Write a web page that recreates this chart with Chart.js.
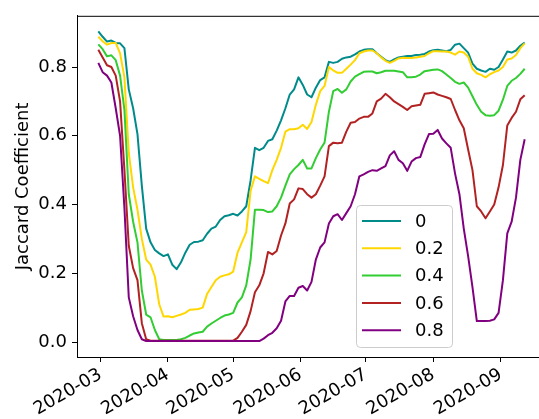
<!DOCTYPE html>
<html>
<head>
<meta charset="utf-8">
<script src="https://cdn.jsdelivr.net/npm/chart.js@4.4.1/dist/chart.umd.min.js"></script>
<style>
  html, body { margin: 0; padding: 0; background: #fff; overflow: hidden; }
  #wrap { width: 539px; height: 419px; overflow: hidden; }
</style>
</head>
<body>
<div id="wrap"><canvas id="chart" width="560" height="419"></canvas></div>
<script>
// days since 2020-03-01 (every second day, 2020-02-29 .. 2020-09-12)
const days = [-1, 1, 3, 5, 7, 9, 11, 13, 15, 17, 19, 21, 23, 25, 27, 29, 31, 33, 35, 37,
    39, 41, 43, 45, 47, 49, 51, 53, 55, 57, 59, 61, 63, 65, 67, 69, 71, 73, 75, 77,
    79, 81, 83, 85, 87, 89, 91, 93, 95, 97, 99, 101, 103, 105, 107, 109, 111, 113, 115, 117,
    119, 121, 123, 125, 127, 129, 131, 133, 135, 137, 139, 141, 143, 145, 147, 149, 151, 153, 155, 157,
    159, 161, 163, 165, 167, 169, 171, 173, 175, 177, 179, 181, 183, 185, 187, 189, 191, 193, 195]

const seriesLabels = ['0', '0.2', '0.4', '0.6', '0.8']
const seriesColors = ['#008b8b', '#ffd700', '#32cd32', '#b22222', '#800080']

const jac00 = [0.904, 0.888, 0.874, 0.877, 0.870, 0.869, 0.855, 0.735, 0.680, 0.605,
    0.455, 0.330, 0.290, 0.268, 0.258, 0.250, 0.255, 0.225, 0.212, 0.232,
    0.260, 0.283, 0.291, 0.292, 0.296, 0.315, 0.330, 0.336, 0.355, 0.366,
    0.369, 0.373, 0.368, 0.380, 0.395, 0.470, 0.565, 0.558, 0.565, 0.585,
    0.590, 0.615, 0.645, 0.680, 0.720, 0.735, 0.770, 0.748, 0.720, 0.712,
    0.740, 0.762, 0.770, 0.815, 0.812, 0.815, 0.824, 0.828, 0.830, 0.837,
    0.845, 0.850, 0.852, 0.852, 0.840, 0.830, 0.820, 0.815, 0.822, 0.828,
    0.830, 0.832, 0.832, 0.835, 0.836, 0.838, 0.845, 0.849, 0.850, 0.848,
    0.846, 0.850, 0.865, 0.868, 0.855, 0.842, 0.810, 0.795, 0.790, 0.786,
    0.795, 0.792, 0.800, 0.822, 0.845, 0.842, 0.848, 0.862, 0.871]

const jac02 = [0.888, 0.875, 0.865, 0.870, 0.870, 0.840, 0.770, 0.550, 0.450, 0.385,
    0.300, 0.240, 0.225, 0.190, 0.110, 0.074, 0.075, 0.072, 0.076, 0.080,
    0.085, 0.094, 0.095, 0.096, 0.100, 0.140, 0.160, 0.180, 0.190, 0.194,
    0.197, 0.205, 0.260, 0.290, 0.320, 0.440, 0.482, 0.475, 0.468, 0.462,
    0.500, 0.530, 0.565, 0.612, 0.619, 0.619, 0.622, 0.632, 0.620, 0.640,
    0.690, 0.730, 0.745, 0.800, 0.790, 0.783, 0.783, 0.795, 0.807, 0.820,
    0.840, 0.845, 0.848, 0.848, 0.840, 0.828, 0.818, 0.812, 0.818, 0.825,
    0.827, 0.826, 0.826, 0.828, 0.830, 0.832, 0.840, 0.846, 0.846, 0.845,
    0.845, 0.842, 0.836, 0.845, 0.842, 0.830, 0.795, 0.782, 0.777, 0.770,
    0.779, 0.785, 0.790, 0.800, 0.822, 0.825, 0.835, 0.855, 0.869]

const jac04 = [0.866, 0.852, 0.831, 0.834, 0.820, 0.775, 0.675, 0.430, 0.350, 0.290,
    0.150, 0.080, 0.072, 0.035, 0.008, 0.006, 0.006, 0.006, 0.006, 0.008,
    0.012, 0.019, 0.025, 0.028, 0.030, 0.045, 0.054, 0.062, 0.070, 0.077,
    0.080, 0.085, 0.115, 0.130, 0.165, 0.240, 0.385, 0.385, 0.384, 0.378,
    0.380, 0.395, 0.420, 0.455, 0.488, 0.503, 0.515, 0.530, 0.505, 0.505,
    0.535, 0.560, 0.580, 0.670, 0.730, 0.736, 0.725, 0.735, 0.758, 0.772,
    0.779, 0.786, 0.787, 0.787, 0.782, 0.785, 0.789, 0.789, 0.789, 0.787,
    0.785, 0.770, 0.770, 0.772, 0.778, 0.788, 0.790, 0.792, 0.793, 0.788,
    0.778, 0.768, 0.757, 0.751, 0.755, 0.740, 0.715, 0.690, 0.670, 0.660,
    0.658, 0.660, 0.673, 0.705, 0.745, 0.760, 0.768, 0.780, 0.795]

const jac06 = [0.850, 0.828, 0.805, 0.800, 0.775, 0.700, 0.500, 0.280, 0.215, 0.180,
    0.055, 0.008, 0.004, 0.004, 0.004, 0.004, 0.004, 0.004, 0.004, 0.004,
    0.004, 0.004, 0.004, 0.004, 0.004, 0.004, 0.004, 0.004, 0.004, 0.004,
    0.004, 0.004, 0.012, 0.030, 0.050, 0.090, 0.145, 0.165, 0.200, 0.262,
    0.255, 0.265, 0.310, 0.345, 0.403, 0.415, 0.447, 0.445, 0.430, 0.420,
    0.430, 0.455, 0.482, 0.570, 0.580, 0.578, 0.580, 0.612, 0.638, 0.640,
    0.650, 0.655, 0.655, 0.665, 0.700, 0.708, 0.722, 0.712, 0.700, 0.692,
    0.684, 0.675, 0.686, 0.688, 0.690, 0.722, 0.724, 0.726, 0.720, 0.716,
    0.712, 0.707, 0.675, 0.645, 0.622, 0.560, 0.500, 0.395, 0.380, 0.360,
    0.380, 0.400, 0.450, 0.515, 0.630, 0.652, 0.670, 0.706, 0.718]

const jac08 = [0.812, 0.785, 0.775, 0.755, 0.680, 0.600, 0.390, 0.130, 0.075, 0.035,
    0.008, 0.003, 0.003, 0.003, 0.003, 0.003, 0.003, 0.003, 0.003, 0.003,
    0.003, 0.003, 0.003, 0.003, 0.003, 0.003, 0.003, 0.003, 0.003, 0.003,
    0.003, 0.003, 0.003, 0.003, 0.003, 0.003, 0.003, 0.003, 0.010, 0.020,
    0.027, 0.040, 0.062, 0.118, 0.134, 0.134, 0.158, 0.163, 0.150, 0.175,
    0.240, 0.275, 0.290, 0.345, 0.366, 0.372, 0.355, 0.375, 0.395, 0.430,
    0.482, 0.488, 0.495, 0.500, 0.498, 0.505, 0.512, 0.543, 0.555, 0.530,
    0.520, 0.498, 0.525, 0.535, 0.538, 0.575, 0.605, 0.606, 0.617, 0.592,
    0.578, 0.565, 0.490, 0.430, 0.330, 0.250, 0.160, 0.061, 0.061, 0.061,
    0.062, 0.066, 0.085, 0.180, 0.316, 0.350, 0.420, 0.530, 0.590]

const seriesValues = [jac00, jac02, jac04, jac06, jac08]

// x ticks at month starts (days since 2020-03-01)
const monthTicks = [0, 31, 61, 92, 122, 153, 184]
const monthLabels = ['2020-03', '2020-04', '2020-05', '2020-06', '2020-07', '2020-08', '2020-09']
const yTicks = [0, 0.2, 0.4, 0.6, 0.8]

const FONT = 'DejaVu Sans'
Chart.defaults.font.family = FONT
Chart.defaults.color = '#000'

// frame on top/right + legend box inside the plot, drawn like matplotlib
const framePlugin = {
    id: 'frame',
    afterDraw(chart) {
        const { ctx, chartArea: a } = chart
        ctx.save()
        ctx.strokeStyle = '#000'
        ctx.lineWidth = 1
        ctx.beginPath()
        ctx.moveTo(a.left, a.top + 0.5)
        ctx.lineTo(a.right, a.top + 0.5)
        ctx.lineTo(a.right, a.bottom)
        ctx.stroke()

        // legend
        const bx = 356, by = 205, bw = 96, bh = 142, r = 4
        ctx.beginPath()
        ctx.roundRect(bx + 0.5, by + 0.5, bw, bh, r)
        ctx.fillStyle = 'rgba(255,255,255,0.8)'
        ctx.fill()
        ctx.strokeStyle = '#cccccc'
        ctx.stroke()
        ctx.font = '18px "' + FONT + '"'
        ctx.textBaseline = 'middle'
        ctx.textAlign = 'left'
        chart.data.datasets.forEach((ds, i) => {
            const y = 221 + i * 27.3
            ctx.beginPath()
            ctx.strokeStyle = ds.borderColor
            ctx.lineWidth = 2
            ctx.moveTo(362, y)
            ctx.lineTo(401, y)
            ctx.stroke()
            ctx.fillStyle = '#000'
            ctx.fillText(ds.label, 415, y + 1)
        })
        ctx.restore()
    }
}

const datasets = seriesValues.map((vals, i) => ({
    label: seriesLabels[i],
    data: vals.map((v, j) => ({ x: days[j], y: v })),
    borderColor: seriesColors[i],
    backgroundColor: seriesColors[i],
    borderWidth: 2,
    pointRadius: 0,
    tension: 0,
    borderJoinStyle: 'round',
    fill: false,
    order: seriesValues.length - i
}))

new Chart(document.getElementById('chart'), {
    type: 'line',
    data: { datasets },
    options: {
        responsive: false,
        animation: false,
        devicePixelRatio: 1,
        layout: { padding: { top: 8, right: 14, left: 0, bottom: 0 } },
        plugins: { legend: { display: false }, tooltip: { enabled: false } },
        scales: {
            x: {
                type: 'linear',
                min: -10.8,
                max: 204.8,
                afterBuildTicks: s => { s.ticks = monthTicks.map(v => ({ value: v })) },
                afterFit: s => { s.height = 62 },
                ticks: {
                    autoSkip: false,
                    minRotation: 30,
                    maxRotation: 30,
                    padding: 2,
                    color: '#000',
                    font: { size: 18 },
                    callback: v => monthLabels[monthTicks.indexOf(v)]
                },
                grid: { drawOnChartArea: false, drawTicks: true, tickLength: 5, color: '#000' },
                border: { display: true, color: '#000', width: 1 }
            },
            y: {
                min: -0.0435,
                max: 0.949,
                afterBuildTicks: s => { s.ticks = yTicks.map(v => ({ value: v })) },
                afterFit: s => { s.width = 77 },
                ticks: {
                    padding: 5,
                    color: '#000',
                    font: { size: 18 },
                    callback: v => Number(v).toFixed(1)
                },
                title: {
                    display: true,
                    text: 'Jaccard Coefficient',
                    color: '#000',
                    font: { size: 18 },
                    padding: { top: 13, bottom: 0 }
                },
                grid: { drawOnChartArea: false, drawTicks: true, tickLength: 5, color: '#000' },
                border: { display: true, color: '#000', width: 1 }
            }
        }
    },
    plugins: [framePlugin]
})
</script>
</body>
</html>
